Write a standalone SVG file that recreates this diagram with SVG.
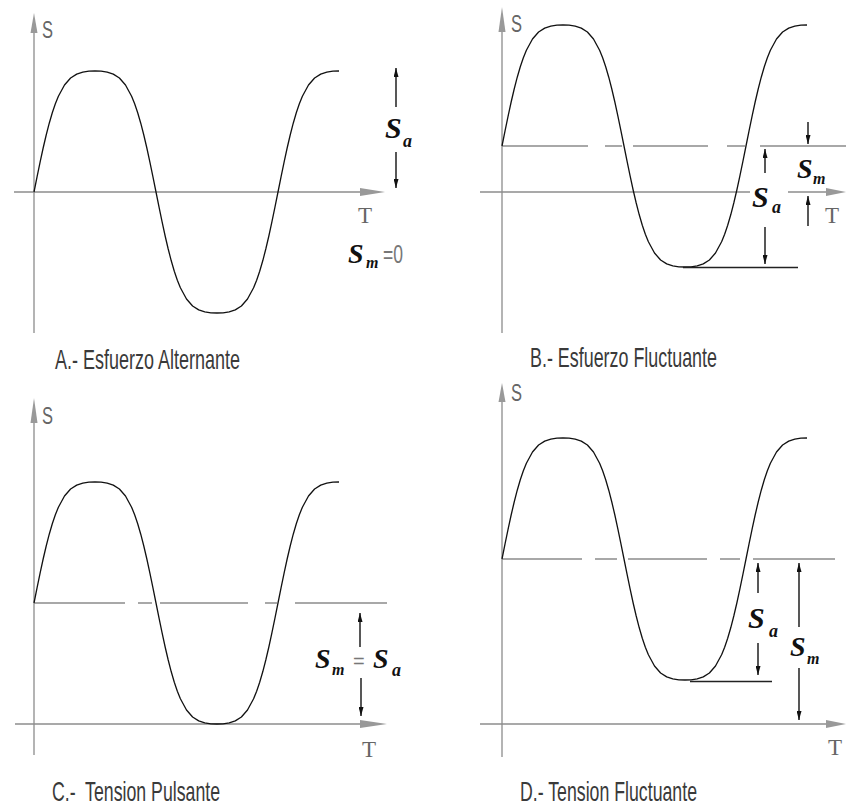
<svg xmlns="http://www.w3.org/2000/svg" xmlns:xlink="http://www.w3.org/1999/xlink" width="846" height="809" viewBox="0 0 846 809">
<style>
.axis{stroke:#8c8c8c;stroke-width:1.3;fill:none}
.mean{stroke:#8c8c8c;stroke-width:1.3;fill:none}
.wave{stroke:#111;stroke-width:1.3;fill:none;stroke-linejoin:round}
.minl{stroke:#222;stroke-width:1.4}
.dim{stroke:#111;stroke-width:1.4;marker-end:url(#ah)}
.ahd{fill:#999}
.cap{font-family:"Liberation Sans Narrow","Liberation Sans",sans-serif;font-size:28px;fill:#3a3a3a}
.ax{font-family:"Liberation Sans Narrow","Liberation Sans",sans-serif;font-size:24px;fill:#666}
.t{font-family:"Liberation Serif",serif;font-size:23px;fill:#666}
.sym{font-family:"Liberation Serif",serif;font-weight:bold;font-style:italic;fill:#111}
.big{font-size:30px}
.sub{font-size:18px}
.subm{font-size:16px}
.eq{font-family:"Liberation Sans Narrow","Liberation Sans",sans-serif;fill:#777}
</style>
<defs>
<marker id="ah" viewBox="0 0 10 10" refX="10" refY="5" markerWidth="9" markerHeight="5" orient="auto" markerUnits="userSpaceOnUse" preserveAspectRatio="none"><path d="M0,0 L10,5 L0,10 z" fill="#111"/></marker>
<path id="wv" class="wave" d="M0,0 L3.05,-15.1 L6.1,-29.9 L9.15,-44 L12.2,-57 L15.25,-68.8 L18.3,-79.2 L21.35,-88.2 L24.4,-95.8 L30.5,-107 L36.6,-114 L42.7,-117.9 L48.8,-119.8 L54.9,-120.8 L61,-121 L67.1,-120.8 L73.2,-119.8 L79.3,-117.9 L85.4,-114 L91.5,-107 L97.6,-95.8 L100.65,-88.2 L103.7,-79.2 L106.75,-68.8 L109.8,-57 L112.85,-44 L115.9,-29.9 L118.95,-15.1 L122,0 L125.05,15.1 L128.1,29.9 L131.15,44 L134.2,57 L137.25,68.8 L140.3,79.2 L143.35,88.2 L146.4,95.8 L152.5,107 L158.6,114 L164.7,117.9 L170.8,119.8 L176.9,120.8 L183,121 L189.1,120.8 L195.2,119.8 L201.3,117.9 L207.4,114 L213.5,107 L219.6,95.8 L222.65,88.2 L225.7,79.2 L228.75,68.8 L231.8,57 L234.85,44 L237.9,29.9 L240.95,15.1 L244,0 L247.05,-15.1 L250.1,-29.9 L253.15,-44 L256.2,-57 L259.25,-68.8 L262.3,-79.2 L265.35,-88.2 L268.4,-95.8 L274.5,-107 L280.6,-114 L286.7,-117.9 L292.8,-119.8 L298.9,-120.8 L305,-121"/>
</defs>
<rect width="846" height="809" fill="#fff"/>

<g id="panelA">
<line class="axis" x1="34" y1="20" x2="34" y2="333"/>
<polygon class="ahd" points="34,13 37.5,33 30.5,33"/>
<line class="axis" x1="14" y1="192" x2="362" y2="192"/>
<polygon class="ahd" points="360,188 385,192 360,196"/>
<text class="ax" x="42" y="38" textLength="11" lengthAdjust="spacingAndGlyphs">S</text>
<text class="t" x="358" y="223">T</text>
<use xlink:href="#wv" href="#wv" x="34" y="192"/>
<line class="dim" x1="396" y1="107" x2="396" y2="68"/>
<line class="dim" x1="396" y1="152" x2="396" y2="188"/>
<text class="sym big" x="385" y="138">S</text><text class="sym sub" x="403" y="147">a</text>
<text class="sym" font-size="28" x="348" y="263">S</text><text class="sym subm" x="366" y="268">m</text>
<text class="eq" font-size="25" x="383" y="263" textLength="20" lengthAdjust="spacingAndGlyphs">=0</text>
<text class="cap" x="55" y="369" textLength="185" lengthAdjust="spacingAndGlyphs">A.- Esfuerzo Alternante</text>
</g>

<g id="panelB">
<line class="axis" x1="502" y1="14" x2="502" y2="333"/>
<polygon class="ahd" points="502,7 505.5,32 498.5,32"/>
<line class="axis" x1="480" y1="192" x2="750" y2="192"/>
<line class="axis" x1="788" y1="192" x2="830" y2="192"/>
<polygon class="ahd" points="826,188 846,192 826,196"/>
<path class="mean" d="M502,146H588M605,146H622M633,146H708M727,146H745M760,146H846"/>
<text class="ax" x="511" y="32" textLength="11" lengthAdjust="spacingAndGlyphs">S</text>
<text class="t" x="825" y="223">T</text>
<use xlink:href="#wv" href="#wv" x="502" y="146"/>
<line class="minl" x1="683" y1="267.5" x2="798" y2="267.5"/>
<line class="dim" x1="808" y1="122" x2="808" y2="144"/>
<line class="dim" x1="808" y1="226" x2="808" y2="196"/>
<line class="dim" x1="765" y1="173" x2="765" y2="149"/>
<line class="dim" x1="765" y1="227" x2="765" y2="264"/>
<text class="sym" font-size="28" x="797" y="178">S</text><text class="sym subm" x="813" y="184">m</text>
<text class="sym big" x="752" y="207">S</text><text class="sym sub" x="772" y="213">a</text>
<text class="cap" x="530" y="367" textLength="187" lengthAdjust="spacingAndGlyphs">B.- Esfuerzo Fluctuante</text>
</g>

<g id="panelC">
<line class="axis" x1="34" y1="406" x2="34" y2="755"/>
<polygon class="ahd" points="34,398 37.5,423 30.5,423"/>
<line class="axis" x1="15" y1="724" x2="362" y2="724"/>
<polygon class="ahd" points="360,720 387,724 360,728"/>
<path class="mean" d="M34,603H125M138,603H152M160,603H248M265,603H277M295,603H387"/>
<text class="ax" x="42" y="424" textLength="11" lengthAdjust="spacingAndGlyphs">S</text>
<text class="t" x="362" y="757">T</text>
<use xlink:href="#wv" href="#wv" x="34" y="603"/>
<line class="dim" x1="360" y1="647" x2="360" y2="613"/>
<line class="dim" x1="361" y1="678" x2="361" y2="716"/>
<text class="sym" font-size="28" x="315" y="668">S</text><text class="sym subm" x="332" y="675">m</text>
<text class="eq" font-size="20" x="353" y="668">=</text>
<text class="sym" font-size="28" x="373" y="668">S</text><text class="sym sub" x="392" y="676">a</text>
<text class="cap" x="52" y="801" textLength="168" lengthAdjust="spacingAndGlyphs" xml:space="preserve">C.-  Tension Pulsante</text>
</g>

<g id="panelD">
<line class="axis" x1="502" y1="390" x2="502" y2="757"/>
<polygon class="ahd" points="502,383 505.5,402 498.5,402"/>
<line class="axis" x1="480" y1="724" x2="830" y2="724"/>
<polygon class="ahd" points="826,720 846,724 826,728"/>
<path class="mean" d="M502,559H582M595,559H617M628,559H707M720,559H740M753,559H835"/>
<text class="ax" x="511" y="401" textLength="11" lengthAdjust="spacingAndGlyphs">S</text>
<text class="t" x="828" y="755">T</text>
<use xlink:href="#wv" href="#wv" x="502" y="559"/>
<line class="minl" x1="690" y1="681.5" x2="772" y2="681.5"/>
<line class="dim" x1="758" y1="593" x2="758" y2="563"/>
<line class="dim" x1="758" y1="643" x2="758" y2="675"/>
<line class="dim" x1="799" y1="627" x2="799" y2="563"/>
<line class="dim" x1="799" y1="668" x2="799" y2="720"/>
<text class="sym big" x="748" y="628">S</text><text class="sym sub" x="769" y="637">a</text>
<text class="sym" font-size="28" x="790" y="656">S</text><text class="sym subm" x="807" y="664">m</text>
<text class="cap" x="520" y="801" textLength="177" lengthAdjust="spacingAndGlyphs">D.- Tension Fluctuante</text>
</g>
</svg>
